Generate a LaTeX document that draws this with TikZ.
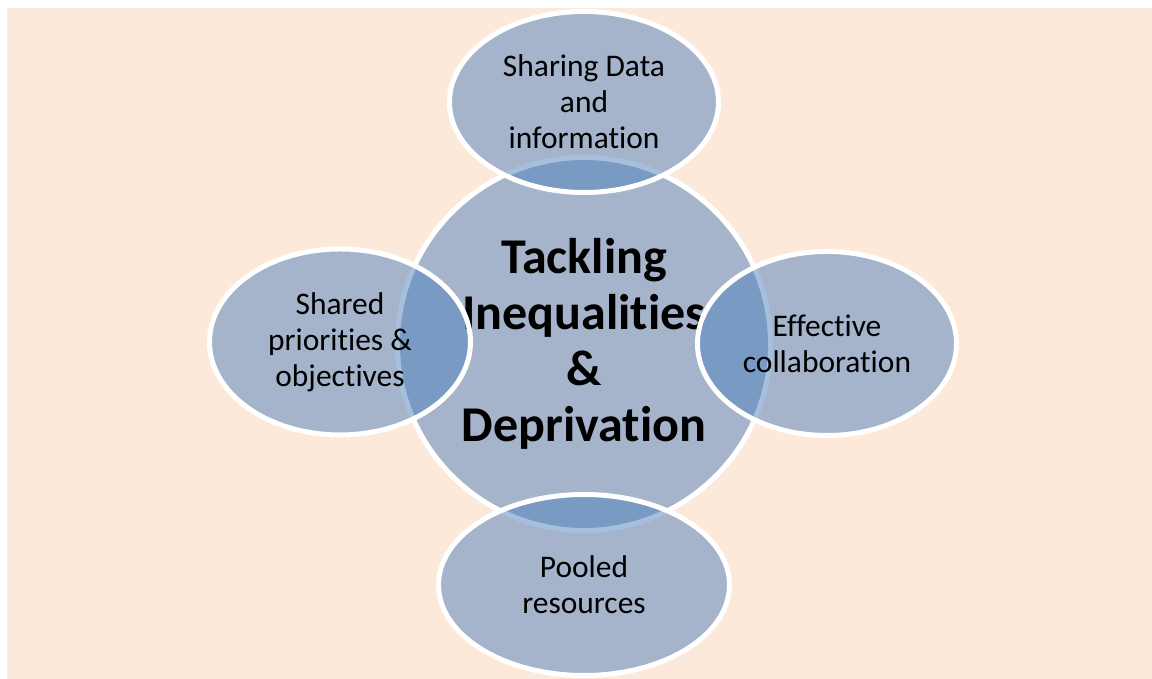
\documentclass[tikz,border=0pt]{standalone}
\usepackage{fontspec}
\setmainfont[Ligatures=NoCommon]{Carlito}
\usetikzlibrary{calc, positioning, shapes.geometric}
\definecolor{bulm}{HTML}{4F81BD}
\definecolor{pulm}{HTML}{FCE9DA}

\begin{document}
\begin{tikzpicture}
        \tikzstyle{every node}=[draw = white, line width = 0.1cm, fill = bulm, fill opacity = 0.5, text opacity = 1, draw opacity = 1, align = center, text = black, inner sep = 0pt]
        \tikzstyle{petal}=[ellipse, font = \fontsize{17.9}{20.6}\selectfont]
        \useasboundingbox (0,0) rectangle (23.04,13.58);
        \fill[pulm] (0.14,0) rectangle (23.04,13.42);

        \node[circle, minimum size = 7.46cm, font = \bfseries\fontsize{28.5}{31.8}\selectfont] (hub) at (11.68,6.70) {Tackling\\ Inequalities\\ \&\\ Deprivation};

        \node[petal, minimum width = 5.38cm, minimum height = 3.62cm] (data) at ($(hub)+(0,4.84)$) {Sharing Data\\ and\\ information};
        \node[petal, minimum width = 5.82cm, minimum height = 3.62cm] (pool) at ($(hub)+(0,-4.82)$) {Pooled\\ resources};
        \node[petal, minimum width = 5.22cm, minimum height = 3.72cm] (prio) at ($(hub)+(-4.88,0.04)$) {Shared\\ priorities \&\\ objectives};
        \node[petal, minimum width = 5.18cm, minimum height = 3.68cm] (coll) at ($(hub)+(4.86,0.01)$) {Effective\\ collaboration};
    \end{tikzpicture}
\end{document}
